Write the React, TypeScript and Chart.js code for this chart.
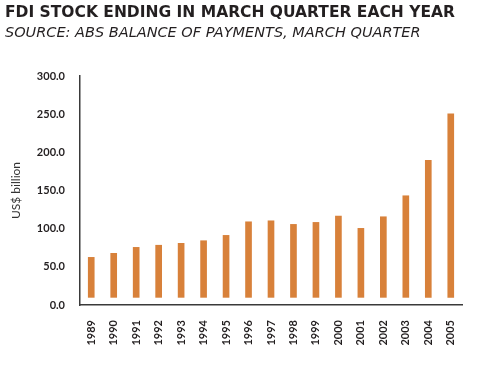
import React, { useEffect, useRef } from "react";
import { Chart, registerables } from "chart.js";

Chart.register(...registerables);

const TITLE = "FDI STOCK ENDING IN MARCH QUARTER EACH YEAR";
const SUBTITLE = "SOURCE: ABS BALANCE OF PAYMENTS, MARCH QUARTER";
const Y_TITLE = "US$ billion";

const years = [
  "1989", "1990", "1991", "1992", "1993", "1994", "1995", "1996", "1997",
  "1998", "1999", "2000", "2001", "2002", "2003", "2004", "2005",
];
const fdiStock = [
  62.4, 67.7, 75.5, 78.3, 80.8, 84.2, 91.2, 109.0, 110.3,
  105.6, 108.2, 116.5, 100.4, 115.6, 143.1, 189.4, 250.4,
];
const barBase = 10;
const yTicks = [0, 50, 100, 150, 200, 250, 300];

const BAR_COLOR = "#D8813A";
const TEXT_DARK = "#231F20";

export default function App() {
  const ref = useRef<HTMLCanvasElement | null>(null);

  useEffect(() => {
    if (!ref.current) return;
    const chart = new Chart(ref.current, {
      type: "bar",
      data: {
        labels: years,
        datasets: [
          {
            data: fdiStock.map((v) => [barBase, v]) as any,
            backgroundColor: BAR_COLOR,
            borderWidth: 0,
            barThickness: 6,
          },
        ],
      },
      options: {
        animation: false,
        responsive: false,
        maintainAspectRatio: false,
        layout: { padding: { left: 5, right: 38, top: 0, bottom: 0 } },
        plugins: {
          legend: { display: false },
          tooltip: { enabled: false },
          title: {
            display: true,
            text: TITLE,
            align: "start",
            color: TEXT_DARK,
            font: { family: "'DejaVu Sans'", size: 15.5, weight: "bold" },
            padding: { top: 3.5, bottom: 0 },
          },
          subtitle: {
            display: true,
            text: SUBTITLE,
            align: "start",
            color: TEXT_DARK,
            font: { family: "'DejaVu Sans'", size: 14.5, style: "italic", weight: "normal" },
            padding: { top: 2, bottom: 34.5 },
          },
        },
        scales: {
          x: {
            offset: true,
            grid: { display: false, drawTicks: false },
            border: { display: true, color: "#3a3a3a", width: 1.5 },
            ticks: {
              color: TEXT_DARK,
              font: { family: "Lato", size: 11, weight: "bold" },
              minRotation: 90,
              maxRotation: 90,
              padding: 15,
              autoSkip: false,
            },
            afterFit: (scale: any) => {
              scale.height = 67;
            },
          },
          y: {
            min: 0,
            max: 300,
            afterBuildTicks: (scale: any) => {
              scale.ticks = yTicks.map((v) => ({ value: v }));
            },
            grid: { display: false, drawTicks: false },
            border: { display: true, color: "#3a3a3a", width: 1.5 },
            ticks: {
              color: TEXT_DARK,
              font: { family: "Lato", size: 11, weight: "bold" },
              padding: 15,
              callback: (v: any) => Number(v).toFixed(1),
            },
            title: {
              display: true,
              text: Y_TITLE,
              color: "#333333",
              font: { family: "Lato", size: 12 },
              padding: { top: 4, bottom: 0 },
            },
            afterFit: (scale: any) => {
              scale.width = 75;
            },
          },
        },
      },
    });
    return () => chart.destroy();
  }, []);

  return (
    <div style={{ position: "fixed", left: 0, top: 0, width: 500, height: 372, background: "#fff" }}>
      <canvas ref={ref} width={500} height={372} style={{ display: "block", width: 500, height: 372 }} />
    </div>
  );
}
